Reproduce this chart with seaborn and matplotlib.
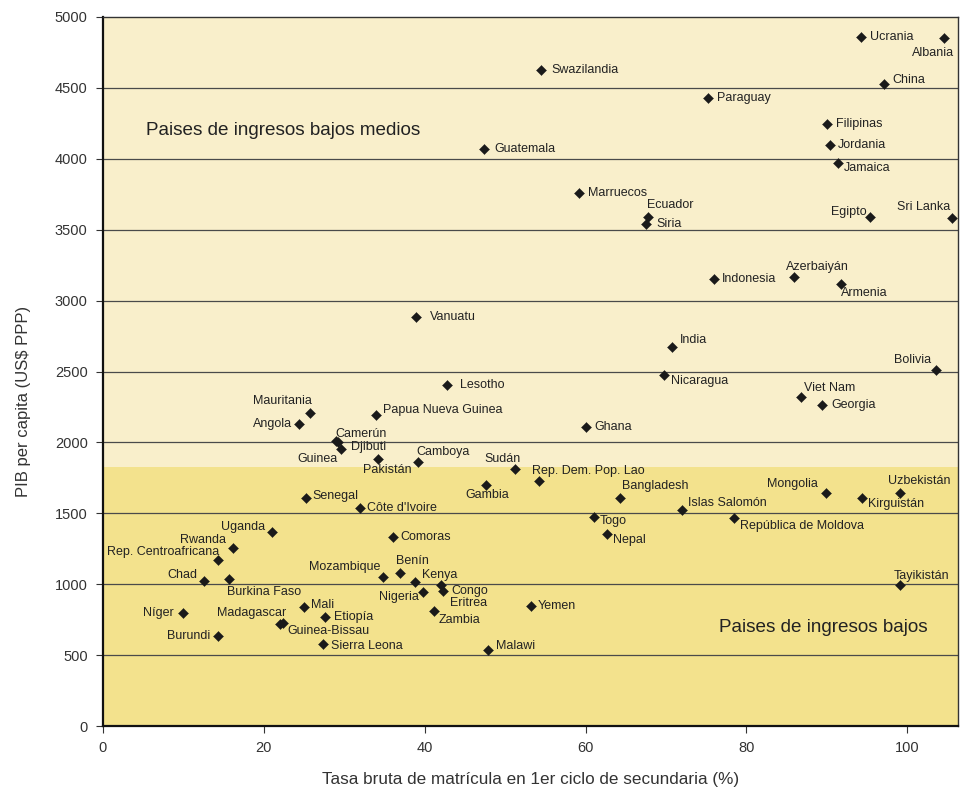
import matplotlib
matplotlib.use("Agg")
import matplotlib.pyplot as plt
import seaborn as sns
import pandas as pd

countries = ["Ucrania", "Albania", "China", "Swazilandia", "Paraguay", "Filipinas", "Jordania",
             "Jamaica", "Guatemala", "Marruecos", "Ecuador", "Siria", "Egipto", "Sri Lanka",
             "Indonesia", "Azerbaiyán", "Armenia", "Vanuatu", "India", "Bolivia", "Lesotho",
             "Nicaragua", "Viet Nam", "Georgia", "Mauritania", "Angola", "Papua Nueva Guinea",
             "Ghana", "Camerún", "Guinea", "Djibuti", "Pakistán", "Camboya", "Sudán",
             "Rep. Dem. Pop. Lao", "Gambia", "Senegal", "Côte d'Ivoire", "Comoras", "Benín",
             "Mozambique", "Kenya", "Nigeria", "Congo", "Eritrea", "Zambia", "Mali", "Etiopía",
             "Sierra Leona", "Malawi", "Yemen", "Uganda", "Rwanda", "Rep. Centroafricana",
             "Chad", "Burkina Faso", "Níger", "Madagascar", "Guinea-Bissau", "Burundi",
             "Bangladesh", "Togo", "Nepal", "Islas Salomón", "República de Moldova",
             "Mongolia", "Kirguistán", "Uzbekistán", "Tayikistán"]
enrolment = [94.2, 104.6, 97.1, 54.5, 75.2, 90.0, 90.4,
             91.4, 47.4, 59.2, 67.7, 67.5, 95.4, 105.5,
             76.0, 85.9, 91.8, 38.9, 70.8, 103.5, 42.8,
             69.7, 86.8, 89.4, 25.7, 24.4, 34.0,
             60.1, 29.0, 29.2, 29.6, 34.2, 39.2, 51.2,
             54.2, 47.6, 25.2, 32.0, 36.0, 36.9,
             34.8, 38.8, 39.8, 42.3, 42.0, 41.2, 25.0, 27.6,
             27.4, 47.9, 53.2, 21.0, 16.2, 14.3,
             12.6, 15.7, 9.9, 22.0, 22.4, 14.3,
             64.3, 61.0, 62.6, 72.0, 78.5,
             89.9, 94.4, 99.1, 99.1]
gdp = [4859, 4852, 4527, 4626, 4429, 4245, 4097,
       3970, 4069, 3759, 3590, 3540, 3590, 3582,
       3152, 3166, 3117, 2884, 2673, 2511, 2405,
       2475, 2320, 2264, 2207, 2130, 2193,
       2109, 2010, 2003, 1953, 1883, 1862, 1812,
       1728, 1700, 1608, 1537, 1333, 1079,
       1051, 1016, 945, 952, 994, 811, 839, 769,
       578, 536, 846, 1368, 1255, 1170,
       1023, 1037, 797, 719, 726, 635,
       1608, 1474, 1354, 1523, 1467,
       1643, 1608, 1643, 994]

band_threshold = 1830
band_labels = ["Paises de ingresos bajos medios", "Paises de ingresos bajos"]
x_label = "Tasa bruta de matrícula en 1er ciclo de secundaria (%)"
y_label = "PIB per capita (US$ PPP)"

# label offsets in pixels (dx, dy up), horizontal alignment
offsets = {
    "Ucrania": (9, 0, "left"), "Albania": (10, -15, "right"), "China": (8, 4, "left"),
    "Swazilandia": (10, 0, "left"), "Paraguay": (9, 0, "left"), "Filipinas": (9, 0, "left"),
    "Jordania": (8, 0, "left"), "Jamaica": (6, -5, "left"), "Guatemala": (10, 0, "left"),
    "Marruecos": (9, 0, "left"), "Ecuador": (-1, 12, "left"), "Siria": (10, 0, "left"),
    "Egipto": (-4, 5, "right"), "Sri Lanka": (-1, 11, "right"), "Indonesia": (8, 0, "left"),
    "Azerbaiyán": (-8, 10, "left"), "Armenia": (0, -9, "left"), "Vanuatu": (14, 0, "left"),
    "India": (7, 7, "left"), "Bolivia": (-4, 10, "right"), "Lesotho": (13, 0, "left"),
    "Nicaragua": (7, -6, "left"), "Viet Nam": (3, 9, "left"), "Georgia": (9, 0, "left"),
    "Mauritania": (2, 12, "right"), "Angola": (-7, 0, "right"),
    "Papua Nueva Guinea": (7, 5, "left"), "Ghana": (8, 0, "left"),
    "Camerún": (-1, 7, "left"), "Guinea": (0, -17, "right"), "Djibuti": (10, 2, "left"),
    "Pakistán": (-15, -11, "left"), "Camboya": (-2, 10, "left"), "Sudán": (6, 10, "right"),
    "Rep. Dem. Pop. Lao": (-7, 10, "left"), "Gambia": (1, -10, "center"),
    "Senegal": (7, 2, "left"), "Côte d'Ivoire": (7, 0, "left"), "Comoras": (8, 0, "left"),
    "Benín": (-4, 12, "left"), "Mozambique": (-3, 10, "right"), "Kenya": (7, 7, "left"),
    "Nigeria": (-4, -5, "right"), "Congo": (8, 0, "left"), "Eritrea": (9, -18, "left"),
    "Zambia": (4, -9, "left"), "Mali": (7, 2, "left"), "Etiopía": (9, 0, "left"),
    "Sierra Leona": (8, -2, "left"), "Malawi": (8, 4, "left"), "Yemen": (7, 0, "left"),
    "Uganda": (-7, 5, "right"), "Rwanda": (-7, 8, "right"),
    "Rep. Centroafricana": (1, 8, "right"), "Chad": (-7, 6, "right"),
    "Burkina Faso": (-2, -13, "left"), "Níger": (-9, 0, "right"),
    "Madagascar": (6, 11, "right"), "Guinea-Bissau": (4, -8, "left"),
    "Burundi": (-8, 0, "right"), "Bangladesh": (2, 12, "left"), "Togo": (6, -4, "left"),
    "Nepal": (6, -6, "left"), "Islas Salomón": (6, 7, "left"),
    "República de Moldova": (6, -8, "left"), "Mongolia": (-8, 9, "right"),
    "Kirguistán": (6, -6, "left"), "Uzbekistán": (-12, 12, "left"),
    "Tayikistán": (-6, 9, "left"),
}

sns.set_theme(style="white")
plt.rcParams["font.family"] = ["Liberation Sans", "DejaVu Sans"]

df = pd.DataFrame({"pais": countries, "x": enrolment, "y": gdp})

fig = plt.figure(figsize=(9.64, 7.87), dpi=100)
ax = fig.add_axes([0.1068, 0.0775, 0.887, 0.9009])
ax.set_xlim(0, 106.3)
ax.set_ylim(0, 5000)

ax.axhspan(band_threshold, 5000, color="#F9EFCB", zorder=0, lw=0)
ax.axhspan(0, band_threshold, color="#F3E28D", zorder=0, lw=0)
for yv in range(500, 5000, 500):
    ax.axhline(yv, color="#4a4a4a", lw=0.9, zorder=1)

sns.scatterplot(data=df, x="x", y="y", marker="D", s=26, color="#1a1a1a",
                edgecolor="#1a1a1a", linewidth=0.3, ax=ax, zorder=3, legend=False)

for name, xv, yv in zip(countries, enrolment, gdp):
    dx, dy, ha = offsets[name]
    ax.annotate(name, (xv, yv), xytext=(dx * 0.72, dy * 0.72), textcoords="offset points",
                ha=ha, va="center", fontsize=9, color="#222222", zorder=4)

ax.text(0.05, 0.8406, band_labels[0], transform=ax.transAxes, fontsize=13.6,
        color="#222222", ha="left", va="center")
ax.text(0.965, 0.1396, band_labels[1], transform=ax.transAxes, fontsize=13.6,
        color="#222222", ha="right", va="center")

ax.set_xticks(range(0, 101, 20))
ax.set_yticks(range(0, 5001, 500))
ax.tick_params(axis="both", direction="out", length=5, width=0.8, color="#333333",
               labelsize=10.5, labelcolor="#333333", bottom=True, left=True)
ax.tick_params(axis="x", pad=6)
ax.tick_params(axis="y", pad=6)

ax.set_xlabel(x_label, fontsize=12.3, color="#333333", labelpad=12)
ax.set_ylabel(y_label, fontsize=12, color="#333333")
ax.yaxis.label.set_verticalalignment("center")
ax.yaxis.set_label_coords(-0.0925, 0.458)

for side in ["left", "bottom"]:
    ax.spines[side].set_color("#111111")
    ax.spines[side].set_linewidth(1.6)
for side in ["top", "right"]:
    ax.spines[side].set_color("#333333")
    ax.spines[side].set_linewidth(1.0)
ax.grid(False)

fig.savefig("out.png", dpi=100)
